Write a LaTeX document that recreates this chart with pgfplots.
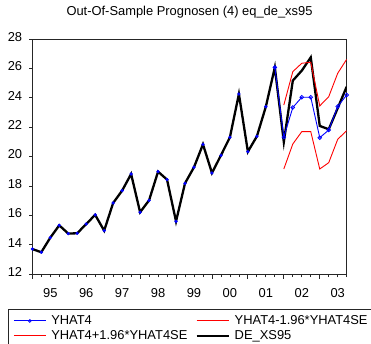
\documentclass[border=0pt]{standalone}
\usepackage{fontspec}
\setmainfont{Liberation Sans}
\usepackage{pgfplots}
\pgfplotsset{compat=1.18}
\usepackage{pgfplotstable}

\pgfplotstableread{
x y
0 13.72
1 13.50
2 14.49
3 15.33
4 14.77
5 14.79
6 15.42
7 16.04
8 14.97
9 16.85
10 17.69
11 18.82
12 16.22
13 17.03
14 18.98
15 18.44
16 15.60
17 18.19
18 19.28
19 20.84
20 18.89
21 20.09
22 21.32
23 24.26
24 20.34
25 21.38
26 23.40
27 26.07
28 21.00
29 25.17
30 25.85
31 26.75
32 22.09
33 21.86
34 23.30
35 24.76
}\actual

\pgfplotstableread{
x y
0 13.72
1 13.50
2 14.49
3 15.33
4 14.77
5 14.79
6 15.42
7 16.04
8 14.97
9 16.85
10 17.69
11 18.82
12 16.22
13 17.03
14 18.98
15 18.44
16 15.60
17 18.19
18 19.28
19 20.84
20 18.89
21 20.09
22 21.32
23 24.26
24 20.34
25 21.38
26 23.40
27 26.07
}\yhatin

\pgfplotstableread{
x y
27 26.07
28 21.33
29 23.34
30 24.04
31 24.04
32 21.29
33 21.81
34 23.41
35 24.19
}\yhatout

\pgfplotstableread{
x lo hi
28 19.16 23.51
29 20.86 25.78
30 21.70 26.35
31 21.70 26.42
32 19.16 23.45
33 19.59 24.08
34 21.18 25.67
35 21.77 26.62
}\band

\begin{document}
\begin{tikzpicture}
\path[use as bounding box] (-32.3bp,-69.7bp) rectangle (338.7bp,274.3bp);
\begin{axis}[
  at={(0,0)}, anchor=south west,
  scale only axis,
  width=314.4bp, height=235.3bp,
  font=\fontsize{12.9bp}{15bp}\selectfont,
  /pgf/number format/assume math mode=true,
  xmin=0, xmax=35, ymin=12, ymax=28,
  axis line style={black!85, line width=0.9bp},
  ytick={12,14,...,28},
  ytick pos=left,
  xtick pos=bottom,
  tick align=outside,
  tick style={black!85, line width=0.8bp},
  major tick length=3bp,
  minor tick length=2.8bp,
  xtick={2,6,...,34},
  xticklabels={95,96,97,98,99,00,01,02,03},
  minor xtick={1,3,...,35},
  extra x ticks={0,4,...,32},
  extra x tick labels={},
  extra x tick style={major tick length=4.5bp},
  yticklabel style={anchor=east, inner sep=0pt, xshift=-7bp, yshift=2.3bp},
  xticklabel style={anchor=north, inner sep=0pt, yshift=-10.7bp},
  title={Out-Of-Sample Prognosen (4) eq\_de\_xs95},
  title style={at={(0.5,1)}, anchor=base, yshift=17.5bp, inner sep=0pt},
  clip mode=individual,
  legend columns=2,
  legend image code/.code={\draw[mark repeat=2,mark phase=2,#1] plot coordinates {(0bp,0bp) (16bp,0bp) (32bp,0bp)};},
  legend style={at={(0,0)}, anchor=north west, xshift=-24.3bp, yshift=-34.7bp,
    draw=black!85, line width=0.8bp, inner xsep=5bp, inner ysep=5.5bp,
    column sep=5bp, row sep=3bp,
    nodes={inner sep=0pt, text height=9.3bp, text depth=2.7bp, anchor=west},
    /tikz/every even column/.append style={column sep=8bp},
    font=\fontsize{12.9bp}{15bp}\selectfont},
  legend cell align=left,
]
% blue line under the black one in-sample
\addplot[blue, line width=0.9bp, forget plot] table[x=x, y=y] {\yhatin};
\addplot[black, line width=2.3bp, forget plot] table[x=x, y=y] {\actual};
\addplot[red, line width=0.9bp, forget plot] table[x=x, y=lo] {\band};
\addplot[red, line width=0.9bp, forget plot] table[x=x, y=hi] {\band};
\addplot[blue, only marks, mark=*, mark size=1.4bp, mark options={fill=blue, draw=blue, line width=0.5bp}, forget plot] table[x=x, y=y] {\yhatin};
\addplot[blue, line width=0.9bp, mark=o, mark size=1.8bp, mark options={fill=white, line width=0.8bp}, forget plot] table[x=x, y=y] {\yhatout};
\addlegendimage{blue, line width=0.9bp, mark=o, mark size=1.4bp, mark options={fill=white, line width=0.8bp}}
\addlegendentry{YHAT4}
\addlegendimage{red, line width=0.9bp}
\addlegendentry{YHAT4-1.96*YHAT4SE}
\addlegendimage{red, line width=0.9bp}
\addlegendentry{YHAT4+1.96*YHAT4SE}
\addlegendimage{black, line width=2.3bp}
\addlegendentry{DE\_XS95}
\end{axis}
\end{tikzpicture}
\end{document}
